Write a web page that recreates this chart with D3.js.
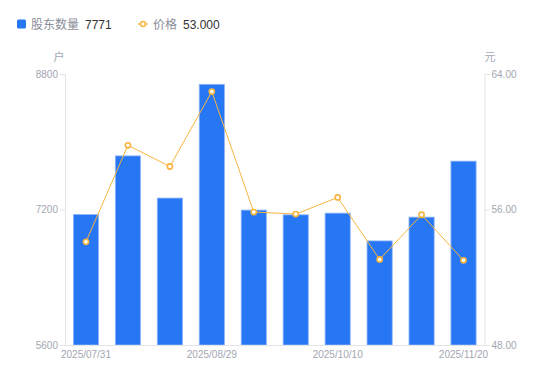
<!DOCTYPE html>
<html>
<head>
<meta charset="utf-8">
<script src="https://cdn.jsdelivr.net/npm/d3@7"></script>
<style>
  body { margin: 0; background: #fff; }
  svg { display: block; font-family: "Liberation Sans", Arial, "Noto Sans CJK SC", sans-serif; }
</style>
</head>
<body>
<div id="chart"></div>
<script>
const dates = ['2025/07/31', '2025/08/11', '2025/08/20', '2025/08/29', '2025/09/10',
  '2025/09/30', '2025/10/10', '2025/10/20', '2025/10/31', '2025/11/20'];
const holders = [7141, 7833, 7335, 8678, 7193, 7137, 7157, 6829, 7110, 7771];
const prices = [54.09, 59.79, 58.54, 62.96, 55.85, 55.73, 56.71, 53.05, 55.69, 53.00];
const holderTicks = [5600, 7200, 8800];
const priceTicks = [48, 56, 64];
const shownDates = ['2025/07/31', '2025/08/29', '2025/10/10', '2025/11/20'];

const width = 550;
const height = 381;
const margin = { top: 74, right: 65.5, bottom: 36, left: 65 };
const axisColor = '#e3e4e8';
const labelColor = '#a3a6b2';
const barColor = '#2777f5';
const lineColor = '#f7b53f';

const svg = d3.select('#chart').append('svg')
  .attr('width', width)
  .attr('height', height);

const x = d3.scaleBand()
  .domain(dates)
  .range([margin.left, width - margin.right])
  .padding(0);

const yLeft = d3.scaleLinear().domain([5600, 8800]).range([height - margin.bottom, margin.top]);
const yRight = d3.scaleLinear().domain([48, 64]).range([height - margin.bottom, margin.top]);

// bars
const bw = x.bandwidth() * 0.6;
svg.append('g').selectAll('rect')
  .data(holders)
  .join('rect')
  .attr('x', (d, i) => x(dates[i]) + (x.bandwidth() - bw) / 2)
  .attr('y', (d) => yLeft(d))
  .attr('width', bw)
  .attr('height', (d) => yLeft(5600) - yLeft(d))
  .attr('fill', barColor)
  .attr('stroke', '#8fb6fa')
  .attr('stroke-width', 0.8);

// axes
const leftAxis = d3.axisLeft(yLeft).tickValues(holderTicks).tickSize(5).tickPadding(2)
  .tickFormat(d3.format('d'));
const rightAxis = d3.axisRight(yRight).tickValues(priceTicks).tickSize(5).tickPadding(2)
  .tickFormat(d3.format('.2f'));
const bottomAxis = d3.axisBottom(x).tickValues(shownDates).tickSize(0).tickPadding(6);

function styleAxis(g) {
  g.select('.domain').attr('stroke', axisColor);
  g.selectAll('.tick line').attr('stroke', axisColor);
  g.selectAll('.tick text').attr('fill', labelColor).attr('font-size', 10)
    .attr('font-family', '"Liberation Sans", Arial, sans-serif');
}

svg.append('g')
  .attr('transform', `translate(${margin.left},0)`)
  .call(leftAxis)
  .call(styleAxis);

svg.append('g')
  .attr('transform', `translate(${width - margin.right},0)`)
  .call(rightAxis)
  .call(styleAxis);

svg.append('g')
  .attr('transform', `translate(0,${height - margin.bottom})`)
  .call(bottomAxis)
  .call(styleAxis)
  .call((g) => g.select('.domain').attr('d', `M${margin.left},0.5H${width - margin.right}`));

// unit labels
svg.append('text').attr('x', 59).attr('y', 61).attr('text-anchor', 'middle')
  .attr('font-size', 11).attr('fill', labelColor).text('户');
svg.append('text').attr('x', 490).attr('y', 61).attr('text-anchor', 'middle')
  .attr('font-size', 11).attr('fill', labelColor).text('元');

// price line
const line = d3.line()
  .x((d, i) => x(dates[i]) + x.bandwidth() / 2)
  .y((d) => yRight(d));

svg.append('path')
  .datum(prices)
  .attr('d', line)
  .attr('fill', 'none')
  .attr('stroke', lineColor)
  .attr('stroke-width', 1);

svg.append('g').selectAll('circle')
  .data(prices)
  .join('circle')
  .attr('cx', (d, i) => x(dates[i]) + x.bandwidth() / 2)
  .attr('cy', (d) => yRight(d))
  .attr('r', 2.6)
  .attr('fill', '#fff')
  .attr('stroke', lineColor)
  .attr('stroke-width', 1.6);

// legend
const legend = svg.append('g').attr('font-size', 12);
legend.append('rect').attr('x', 17).attr('y', 19.5).attr('width', 9).attr('height', 9)
  .attr('rx', 1.5).attr('fill', barColor);
legend.append('text').attr('x', 31).attr('y', 28.5).attr('fill', '#8a8d99').text('股东数量');
legend.append('text').attr('x', 85).attr('y', 28.5).attr('fill', '#333').text(holders[holders.length - 1]);

legend.append('line').attr('x1', 138).attr('x2', 148).attr('y1', 24).attr('y2', 24)
  .attr('stroke', lineColor).attr('stroke-width', 1.2);
legend.append('circle').attr('cx', 143).attr('cy', 24).attr('r', 2.5)
  .attr('fill', '#fff').attr('stroke', lineColor).attr('stroke-width', 1.5);
legend.append('text').attr('x', 153).attr('y', 28.5).attr('fill', '#8a8d99').text('价格');
legend.append('text').attr('x', 183).attr('y', 28.5).attr('fill', '#333')
  .text(d3.format('.3f')(prices[prices.length - 1]));
</script>
</body>
</html>
